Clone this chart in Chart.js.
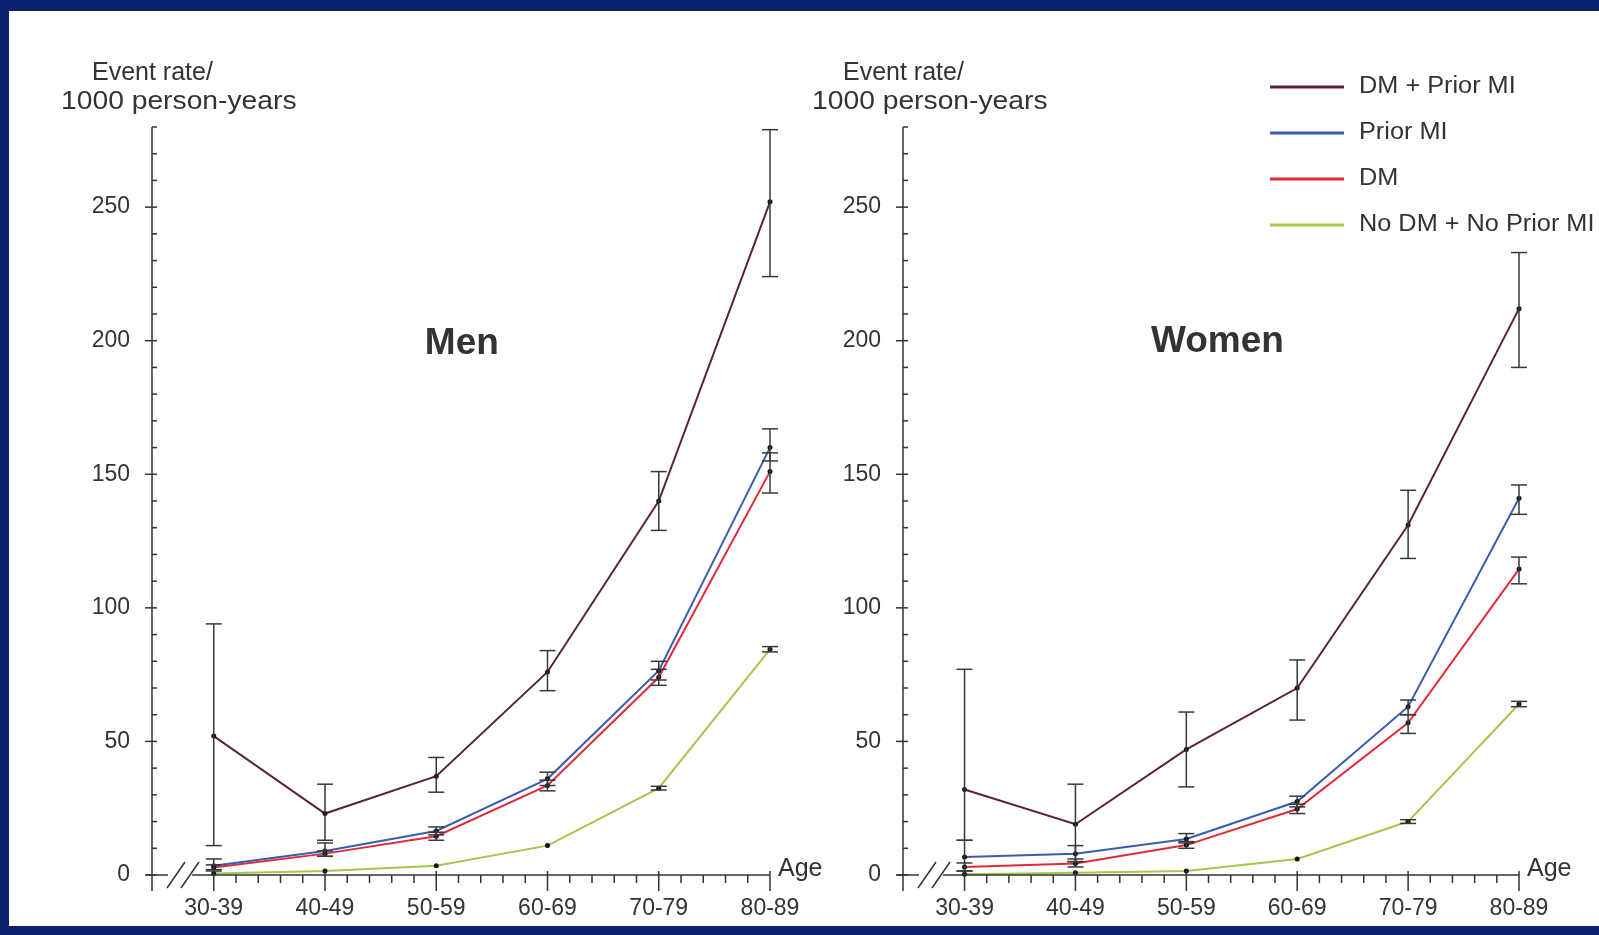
<!DOCTYPE html>
<html>
<head>
<meta charset="utf-8">
<title>Event rate by age</title>
<script src="https://cdn.jsdelivr.net/npm/chart.js@4.4.1/dist/chart.umd.min.js"></script>
<style>
  html, body { margin: 0; padding: 0; }
  body { width: 1599px; height: 935px; background: #0b2170; position: relative; overflow: hidden; }
  #panel { position: absolute; left: 9px; top: 11px; right: 0; bottom: 9px; background: #fff; }
  canvas { position: absolute; top: 0; }
  #menChart { left: 0; }
  #womenChart { left: 800px; }
</style>
</head>
<body>
<div id="panel"></div>
<canvas id="menChart" width="860" height="935"></canvas>
<canvas id="womenChart" width="799" height="935"></canvas>
<script>
var ageGroups = ["30-39", "40-49", "50-59", "60-69", "70-79", "80-89"];
var yTickValues = [0, 50, 100, 150, 200, 250];
var seriesNames = ["DM + Prior MI", "Prior MI", "DM", "No DM + No Prior MI"];
var seriesColors = ["#5a262c", "#3a5cb0", "#e22a3a", "#a4c84a"];

// men
var menDmPriorMi = [52, 23, 37, 76, 140, 252];
var menDmPriorMiLow = [11, 13, 31, 69, 129, 224];
var menDmPriorMiHigh = [94, 34, 44, 84, 151, 279];
var menPriorMi = [3.5, 9, 16.5, 36, 76.5, 160];
var menPriorMiLow = [1.5, 7, 15, 33.5, 73, 155];
var menPriorMiHigh = [6, 12, 18, 38.5, 80, 167];
var menDm = [2.8, 8, 14.5, 33.5, 74, 151];
var menDmLow = [2, 7, 13, 31.5, 71, 143];
var menDmHigh = [3.8, 9, 16, 35.5, 77, 158];
var menNone = [0.6, 1.5, 3.5, 11, 32.5, 84.5];
var menNoneLow = [0.4, 1.3, 3.2, 10.5, 31.8, 83.5];
var menNoneHigh = [0.8, 1.7, 3.8, 11.5, 33.2, 85.5];

// women
var womenDmPriorMi = [32, 19, 47, 70, 131, 212];
var womenDmPriorMiLow = [13, 5, 33, 58, 118.5, 190];
var womenDmPriorMiHigh = [77, 34, 61, 80.5, 144, 233];
var womenPriorMi = [6.7, 8, 13.5, 27.5, 63, 141];
var womenPriorMiLow = [1.5, 5, 12, 25.5, 60, 135];
var womenPriorMiHigh = [13, 11, 15.5, 29.5, 65.5, 146];
var womenDm = [3, 4.3, 11.2, 24.7, 57, 114.5];
var womenDmLow = [1.5, 3, 10, 23, 53, 109];
var womenDmHigh = [4.5, 6, 12.5, 26.5, 60, 119];
var womenNone = [0.3, 0.8, 1.5, 6, 20, 64];
var womenNoneLow = [0.2, 0.6, 1.2, 5.5, 19.3, 63];
var womenNoneHigh = [0.4, 1, 1.8, 6.5, 20.7, 65];

var FONT = "'Liberation Sans', Arial, Helvetica, sans-serif";
var INK = "#333333";

Chart.defaults.font.family = FONT;
Chart.defaults.color = INK;

function toPoints(values) {
    return values.map(function (v, i) { return { x: i, y: v }; });
}

function line(ctx, x1, y1, x2, y2) {
    ctx.beginPath();
    ctx.moveTo(x1, y1);
    ctx.lineTo(x2, y2);
    ctx.stroke();
}

// left-aligned text, widened a little like the original slide
function wideText(ctx, text, x, y, sx) {
    ctx.save();
    ctx.translate(x, y);
    ctx.scale(sx, 1);
    ctx.fillText(text, 0, 0);
    ctx.restore();
}

var decorPlugin = {
    id: "decor",
    afterDatasetsDraw: function (chart) {
        // error bars
        var ctx = chart.ctx, xs = chart.scales.x, ys = chart.scales.y;
        ctx.save();
        ctx.strokeStyle = "#383838";
        ctx.lineWidth = 1.5;
        chart.data.datasets.forEach(function (ds) {
            ds.errLow.forEach(function (lo, j) {
                var px = xs.getPixelForValue(j);
                var yl = ys.getPixelForValue(lo);
                var yh = ys.getPixelForValue(ds.errHigh[j]);
                if (Math.abs(yl - yh) < 3) return;
                line(ctx, px, yl, px, yh);
                line(ctx, px - 8, yl, px + 8, yl);
                line(ctx, px - 8, yh, px + 8, yh);
            });
        });
        ctx.restore();
    },
    afterDraw: function (chart) {
        var cfg = chart.options.plugins.decor;
        var ctx = chart.ctx, xs = chart.scales.x, ys = chart.scales.y;
        var ax = chart.chartArea.left;
        var y0 = ys.getPixelForValue(0);
        var xEnd = xs.getPixelForValue(xs.max);
        ctx.save();
        ctx.strokeStyle = INK;
        ctx.lineWidth = 1.5;

        // y axis and its ticks
        line(ctx, ax, ys.getPixelForValue(ys.max), ax, y0 + 16);
        for (var v = 0; v <= ys.max; v += 10) {
            var py = ys.getPixelForValue(v);
            if (v % 50 === 0) line(ctx, ax - 7, py, ax + 5, py);
            else line(ctx, ax, py, ax + 5, py);
        }

        // x axis with break
        line(ctx, ax - 6, y0, ax + 16, y0);
        line(ctx, ax + 15, y0 + 13, ax + 33, y0 - 13);
        line(ctx, ax + 29, y0 + 13, ax + 47, y0 - 13);
        line(ctx, ax + 40, y0, xEnd, y0);
        for (var k = 0; k <= 25; k++) {
            var px = xs.getPixelForValue(k / 5);
            if (k % 5 === 0) line(ctx, px, y0 - 4, px, y0 + 16);
            else line(ctx, px, y0, px, y0 + 8);
        }

        ctx.fillStyle = INK;
        ctx.textBaseline = "middle";
        ctx.textAlign = "left";
        ctx.font = "25px " + FONT;
        ctx.fillText("Age", xEnd + 8, y0 - 6);

        ctx.font = "25px " + FONT;
        wideText(ctx, "Event rate/", ax - 60, 73, 1.0);
        wideText(ctx, "1000 person-years", ax - 91, 102, 1.13);

        ctx.textAlign = "center";
        ctx.font = "bold 37px " + FONT;
        ctx.fillText(cfg.title, xs.getPixelForValue(cfg.titleAt[0]), ys.getPixelForValue(cfg.titleAt[1]));

        if (cfg.legend) {
            ctx.textAlign = "left";
            ctx.font = "23px " + FONT;
            chart.data.datasets.forEach(function (ds, i) {
                var ly = cfg.legend.y + i * cfg.legend.gap;
                ctx.strokeStyle = ds.borderColor;
                ctx.lineWidth = 3;
                line(ctx, cfg.legend.x, ly, cfg.legend.x + 74, ly);
                ctx.fillStyle = INK;
                wideText(ctx, ds.label, cfg.legend.x + 89, ly, 1.1);
            });
        }
        ctx.restore();
    }
};

function makeChart(canvasId, series, title, titleAt, pad, legend) {
    var ctx = document.getElementById(canvasId).getContext("2d");
    return new Chart(ctx, {
        type: "line",
        data: {
            datasets: series.map(function (s, i) {
                return {
                    label: seriesNames[i],
                    data: toPoints(s.values),
                    errLow: s.low,
                    errHigh: s.high,
                    borderColor: seriesColors[i],
                    borderWidth: 2,
                    tension: 0,
                    pointRadius: 2.5,
                    pointBackgroundColor: "#111",
                    pointBorderWidth: 0,
                    clip: false
                };
            })
        },
        options: {
            responsive: false,
            animation: false,
            layout: { padding: pad },
            plugins: {
                legend: { display: false },
                tooltip: { enabled: false },
                decor: { title: title, titleAt: titleAt, legend: legend }
            },
            scales: {
                x: {
                    type: "linear",
                    min: -0.555,
                    max: 5,
                    afterFit: function (scale) {
                        scale.height = 50;
                        scale.paddingLeft = 0;
                        scale.paddingRight = 0;
                    },
                    afterBuildTicks: function (scale) {
                        scale.ticks = ageGroups.map(function (g, i) { return { value: i }; });
                    },
                    grid: { display: false, drawTicks: false },
                    border: { display: false },
                    ticks: {
                        autoSkip: false,
                        maxRotation: 0,
                        padding: 20,
                        font: { size: 23 },
                        callback: function (value) { return ageGroups[value]; }
                    }
                },
                y: {
                    min: 0,
                    max: 280,
                    afterFit: function (scale) {
                        scale.width = 60;
                        scale.paddingTop = 0;
                        scale.paddingBottom = 0;
                    },
                    afterBuildTicks: function (scale) {
                        scale.ticks = yTickValues.map(function (v) { return { value: v }; });
                    },
                    grid: { display: false, drawTicks: false },
                    border: { display: false },
                    ticks: {
                        autoSkip: false,
                        padding: 22,
                        font: { size: 23 }
                    }
                }
            }
        },
        plugins: [decorPlugin]
    });
}

document.addEventListener("DOMContentLoaded", function () {
    makeChart("menChart", [
        { values: menDmPriorMi, low: menDmPriorMiLow, high: menDmPriorMiHigh },
        { values: menPriorMi, low: menPriorMiLow, high: menPriorMiHigh },
        { values: menDm, low: menDmLow, high: menDmHigh },
        { values: menNone, low: menNoneLow, high: menNoneHigh }
    ], "Men", [2.23, 199], { left: 92, right: 90, top: 127, bottom: 10 }, null);

    makeChart("womenChart", [
        { values: womenDmPriorMi, low: womenDmPriorMiLow, high: womenDmPriorMiHigh },
        { values: womenPriorMi, low: womenPriorMiLow, high: womenPriorMiHigh },
        { values: womenDm, low: womenDmLow, high: womenDmHigh },
        { values: womenNone, low: womenNoneLow, high: womenNoneHigh }
    ], "Women", [2.28, 199.5], { left: 43, right: 80, top: 127, bottom: 10 }, { x: 470, y: 87, gap: 46 });
});
</script>
</body>
</html>
